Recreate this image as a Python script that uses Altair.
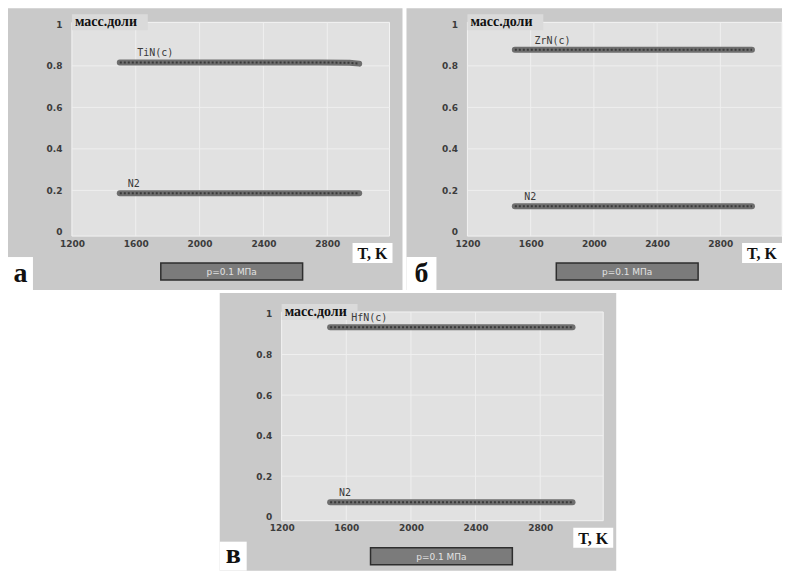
import altair as alt
import pandas as pd

# ---- data ----
X_TICKS = [1200, 1600, 2000, 2400, 2800]
Y_TICKS = [0, 0.2, 0.4, 0.6, 0.8, 1]
X_GRID = [1600, 2000, 2400, 2800]
Y_GRID = [0.2, 0.4, 0.6, 0.8]

T_A = [1500, 1750, 2000, 2250, 2500, 2750, 2940, 3000]
TIN = [0.817, 0.817, 0.817, 0.817, 0.817, 0.817, 0.815, 0.811]
N2_A = [0.186, 0.186, 0.186, 0.186, 0.186, 0.186, 0.186, 0.186]

T_B = [1500, 1750, 2000, 2250, 2500, 2750, 3000]
ZRN = [0.878, 0.878, 0.878, 0.878, 0.878, 0.878, 0.878]
N2_B = [0.124, 0.124, 0.124, 0.124, 0.124, 0.124, 0.124]

T_C = [1500, 1750, 2000, 2250, 2500, 2750, 3000]
HFN = [0.935, 0.935, 0.935, 0.935, 0.935, 0.935, 0.935]
N2_C = [0.071, 0.071, 0.071, 0.071, 0.071, 0.071, 0.071]

LABEL_T = {"a": (1610, 1550), "b": (1625, 1560), "c": (1630, 1555)}
Y_TITLE = "масс.доли"
X_TITLE = "T, K"
LEGEND = "p=0.1 МПа"

ONE = pd.DataFrame({"k": [0]})


def panel(T, main, n2, main_name, lx, letter, geom):
    W, H, L, TP, R, B, LW, TKR = geom
    xs = alt.Scale(domain=[1200, 3190], nice=False, zero=False)
    ys = alt.Scale(domain=[-0.02, 1.01], nice=False, zero=False)
    xaxis = alt.Axis(values=X_TICKS, format="d", title=None, grid=False, domain=False,
                     ticks=False, labelFont="DejaVu Sans", labelFontSize=9,
                     labelFontWeight="bold", labelColor="#3c3c3c", labelPadding=3,
                     labelFlush=False, labelOverlap=False, zindex=1)
    yaxis = alt.Axis(values=Y_TICKS, format="~g", title=None, grid=False, domain=False,
                     ticks=False, labelFont="DejaVu Sans", labelFontSize=9,
                     labelFontWeight="bold", labelColor="#3c3c3c", labelPadding=10,
                     labelFlush=False, labelOverlap=False, zindex=1)
    X = lambda: alt.X("T:Q", scale=xs, axis=xaxis)
    Y = lambda: alt.Y("v:Q", scale=ys, axis=yaxis)

    outer = alt.Chart(ONE).mark_rect(fill="#c9c9c9").encode(
        x=alt.value(-L), x2=alt.value(W + R), y=alt.value(-TP), y2=alt.value(H + B))
    plot = alt.Chart(ONE).mark_rect(fill="#e1e1e1", stroke="#f3f3f3", strokeWidth=1).encode(
        x=alt.value(0), x2=alt.value(W), y=alt.value(0), y2=alt.value(H))
    vgrid = alt.Chart(pd.DataFrame({"T": X_GRID})).mark_rule(color="#efefef", strokeWidth=1).encode(
        x=X(), y=alt.value(0), y2=alt.value(H))
    hgrid = alt.Chart(pd.DataFrame({"v": Y_GRID})).mark_rule(color="#efefef", strokeWidth=1).encode(
        y=Y(), x=alt.value(0), x2=alt.value(W))

    ybox = alt.Chart(ONE).mark_rect(fill="#dadada").encode(
        x=alt.value(0), x2=alt.value(76), y=alt.value(-8), y2=alt.value(8))
    ytxt = alt.Chart(ONE).mark_text(text=Y_TITLE, align="left", baseline="alphabetic",
                                    font="Liberation Serif", fontSize=14, fontWeight="bold",
                                    color="#111111").encode(x=alt.value(3), y=alt.value(4))

    df = pd.DataFrame({
        "T": list(T) + list(T),
        "v": list(main) + list(n2),
        "s": [main_name] * len(T) + ["N2"] * len(T),
    })
    band = alt.Chart(df).mark_line(color="#6e6e6e", strokeWidth=6, strokeCap="round").encode(
        x=X(), y=Y(), detail="s:N")
    beads = alt.Chart(df).mark_line(color="#3a3a3a", strokeWidth=2, strokeDash=[2, 2]).encode(
        x=X(), y=Y(), detail="s:N")

    lab = pd.DataFrame({"T": [lx[0], lx[1]], "v": [main[0], n2[0]], "txt": [main_name, "N2"]})
    labels = alt.Chart(lab).mark_text(align="left", baseline="bottom", dy=-4,
                                      font="DejaVu Sans Mono", fontSize=10,
                                      color="#3a3a3a").encode(x=X(), y=Y(), text="txt:N")

    tkbox = alt.Chart(ONE).mark_rect(fill="white").encode(
        x=alt.value(W + TKR - 40), x2=alt.value(W + TKR), y=alt.value(H + 7), y2=alt.value(H + 27))
    tktxt = alt.Chart(ONE).mark_text(text=X_TITLE, align="center", baseline="alphabetic",
                                     font="Liberation Serif", fontSize=16, fontWeight="bold",
                                     color="#111111").encode(x=alt.value(W + TKR - 20), y=alt.value(H + 23))

    lbox = alt.Chart(ONE).mark_rect(fill="white").encode(
        x=alt.value(-L), x2=alt.value(-L + LW), y=alt.value(H + 21), y2=alt.value(H + B))
    ltxt = alt.Chart(ONE).mark_text(text=letter, align="center", baseline="alphabetic",
                                    font="Liberation Serif", fontSize=28, fontWeight="bold",
                                    color="#111111").encode(x=alt.value(-L + LW / 2), y=alt.value(H + B - 8))

    gbox = alt.Chart(ONE).mark_rect(fill="#7b7b7b", stroke="#2e2e2e", strokeWidth=1.5).encode(
        x=alt.value(89), x2=alt.value(231), y=alt.value(H + 27), y2=alt.value(H + 44))
    gtxt = alt.Chart(ONE).mark_text(text=LEGEND, align="center", baseline="middle",
                                    font="DejaVu Sans", fontSize=9, color="#e2e2e2").encode(
        x=alt.value(160), y=alt.value(H + 36))

    return alt.layer(outer, plot, vgrid, hgrid, ybox, band, beads, labels, ytxt,
                     tkbox, tktxt, lbox, ltxt, gbox, gtxt).properties(width=W, height=H)


pa = panel(T_A, TIN, N2_A, "TiN(c)", LABEL_T["a"], "а", (318, 214, 64, 14, 13, 54, 25, 3))
pb = panel(T_B, ZRN, N2_B, "ZrN(c)", LABEL_T["b"], "б", (315, 214, 61, 14, 0, 54, 30, 0))
pc = panel(T_C, HFN, N2_C, "HfN(c)", LABEL_T["c"], "в", (322, 209, 62, 19, 13, 50, 27, 10))

SP = 148
spacer = alt.Chart(ONE).mark_rect(fill="white").encode(
    x=alt.value(0), x2=alt.value(SP), y=alt.value(-19), y2=alt.value(259)
).properties(width=SP, height=209)

row1 = alt.hconcat(pa, pb, spacing=4)
row2 = alt.hconcat(spacer, pc, spacing=0)
chart = alt.vconcat(row1, row2, spacing=3).properties(
    padding=0, background="white"
).configure_view(stroke=None)

chart.save("out.html", embed_options={"renderer": "svg", "actions": False})
